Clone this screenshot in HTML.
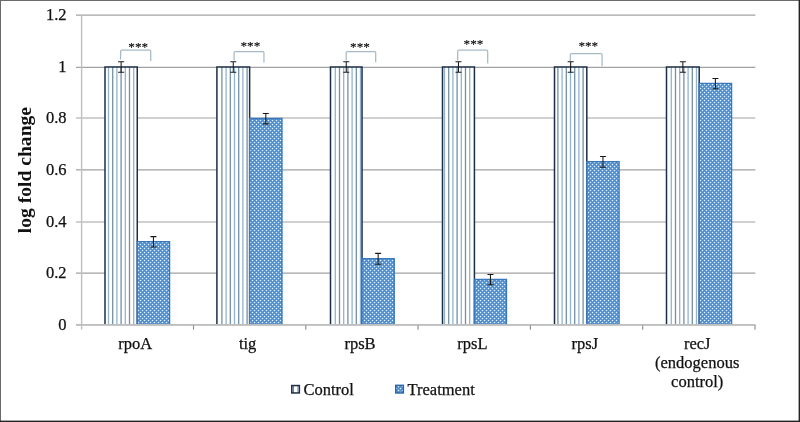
<!DOCTYPE html><html><head><meta charset="utf-8"><style>html,body{margin:0;padding:0;background:#fff;}svg{display:block;will-change:transform;}text{font-family:"Liberation Serif",serif;}.t{stroke:#111;stroke-width:0.25;}</style></head><body>
<svg width="800" height="422" viewBox="0 0 800 422">
<defs>
<pattern id="dots" width="4" height="4" patternUnits="userSpaceOnUse"><rect width="4" height="4" fill="#4d8acb"/><rect x="1" y="0" width="1" height="1" fill="#6aa2d8"/><rect x="3" y="0" width="1" height="1" fill="#6aa2d8"/><rect x="0" y="1" width="1" height="1" fill="#6aa2d8"/><rect x="0" y="3" width="1" height="1" fill="#6aa2d8"/><rect x="1" y="2" width="1" height="1" fill="#6aa2d8"/><rect x="3" y="2" width="1" height="1" fill="#6aa2d8"/><rect x="2" y="1" width="1" height="1" fill="#6aa2d8"/><rect x="2" y="3" width="1" height="1" fill="#6aa2d8"/><rect x="0" y="0" width="1" height="1" fill="#e4f4ff"/><rect x="2" y="2" width="1" height="1" fill="#e4f4ff"/></pattern>
</defs>
<rect width="800" height="422" fill="#fff"/>
<line x1="76" y1="324.80" x2="755.3" y2="324.80" stroke="#a2a2a2" stroke-width="1.2"/>
<text x="66.5" y="329.50" class="t" font-size="16.5" text-anchor="end" fill="#111">0</text>
<line x1="76" y1="273.15" x2="755.3" y2="273.15" stroke="#a2a2a2" stroke-width="1.2"/>
<text x="66.5" y="277.85" class="t" font-size="16.5" text-anchor="end" fill="#111">0.2</text>
<line x1="76" y1="222.00" x2="755.3" y2="222.00" stroke="#a2a2a2" stroke-width="1.2"/>
<text x="66.5" y="226.70" class="t" font-size="16.5" text-anchor="end" fill="#111">0.4</text>
<line x1="76" y1="169.85" x2="755.3" y2="169.85" stroke="#a2a2a2" stroke-width="1.2"/>
<text x="66.5" y="174.55" class="t" font-size="16.5" text-anchor="end" fill="#111">0.6</text>
<line x1="76" y1="118.00" x2="755.3" y2="118.00" stroke="#a2a2a2" stroke-width="1.2"/>
<text x="66.5" y="122.70" class="t" font-size="16.5" text-anchor="end" fill="#111">0.8</text>
<line x1="76" y1="67.40" x2="755.3" y2="67.40" stroke="#a2a2a2" stroke-width="1.2"/>
<text x="66.5" y="72.10" class="t" font-size="16.5" text-anchor="end" fill="#111">1</text>
<line x1="76" y1="15.10" x2="755.3" y2="15.10" stroke="#a2a2a2" stroke-width="1.2"/>
<text x="66.5" y="19.80" class="t" font-size="16.5" text-anchor="end" fill="#111">1.2</text>
<line x1="81.6" y1="15.1" x2="81.6" y2="329.5" stroke="#c2bebe" stroke-width="1.4"/>
<line x1="193.50" y1="324.85" x2="193.50" y2="329.7" stroke="#8a8a8a" stroke-width="1.1"/>
<line x1="305.80" y1="324.85" x2="305.80" y2="329.7" stroke="#8a8a8a" stroke-width="1.1"/>
<line x1="418.10" y1="324.85" x2="418.10" y2="329.7" stroke="#8a8a8a" stroke-width="1.1"/>
<line x1="530.40" y1="324.85" x2="530.40" y2="329.7" stroke="#8a8a8a" stroke-width="1.1"/>
<line x1="642.70" y1="324.85" x2="642.70" y2="329.7" stroke="#8a8a8a" stroke-width="1.1"/>
<line x1="755.00" y1="324.85" x2="755.00" y2="329.7" stroke="#8a8a8a" stroke-width="1.1"/>
<rect x="105.00" y="67.00" width="32.25" height="257.85" fill="#fff"/>
<line x1="108.50" y1="67.00" x2="108.50" y2="324.85" stroke="#92b2d4" stroke-width="1.3"/>
<line x1="112.70" y1="67.00" x2="112.70" y2="324.85" stroke="#74909f" stroke-width="1.3"/>
<line x1="116.90" y1="67.00" x2="116.90" y2="324.85" stroke="#92b2d4" stroke-width="1.3"/>
<line x1="121.10" y1="67.00" x2="121.10" y2="324.85" stroke="#74909f" stroke-width="1.3"/>
<line x1="125.30" y1="67.00" x2="125.30" y2="324.85" stroke="#92b2d4" stroke-width="1.3"/>
<line x1="129.50" y1="67.00" x2="129.50" y2="324.85" stroke="#74909f" stroke-width="1.3"/>
<line x1="133.70" y1="67.00" x2="133.70" y2="324.85" stroke="#92b2d4" stroke-width="1.3"/>
<path d="M105.00 324.85V67.00H137.25V324.85" fill="none" stroke="#1d2f45" stroke-width="1.5"/>
<rect x="137.25" y="241.56" width="32.35" height="83.29" fill="url(#dots)"/>
<path d="M137.25 324.85V241.56H169.60V324.85" fill="none" stroke="#3a78bd" stroke-width="1.3"/>
<path d="M118.12 61.84H124.12M121.12 61.84V72.16M118.12 72.16H124.12" stroke="#1a1a1a" stroke-width="1.05" fill="none"/>
<path d="M150.43 236.60H156.43M153.43 236.60V246.92M150.43 246.92H156.43" stroke="#1a1a1a" stroke-width="1.05" fill="none"/>
<path d="M120.60 59.50V51.40Q120.60 50.20 121.80 50.20H149.50Q150.70 50.20 150.70 51.40V61.10" stroke="#a6bac6" stroke-width="1.25" fill="none"/>
<text x="138.20" y="51.10" font-size="13.2" text-anchor="middle" fill="#000" stroke="#000" stroke-width="0.1">***</text>
<text x="135.25" y="349.4" class="t" font-size="16.5" text-anchor="middle" fill="#111">rpoA</text>
<rect x="216.90" y="67.00" width="32.74" height="257.85" fill="#fff"/>
<line x1="221.90" y1="67.00" x2="221.90" y2="324.85" stroke="#74909f" stroke-width="1.3"/>
<line x1="226.10" y1="67.00" x2="226.10" y2="324.85" stroke="#92b2d4" stroke-width="1.3"/>
<line x1="230.30" y1="67.00" x2="230.30" y2="324.85" stroke="#74909f" stroke-width="1.3"/>
<line x1="234.50" y1="67.00" x2="234.50" y2="324.85" stroke="#92b2d4" stroke-width="1.3"/>
<line x1="238.70" y1="67.00" x2="238.70" y2="324.85" stroke="#74909f" stroke-width="1.3"/>
<line x1="242.90" y1="67.00" x2="242.90" y2="324.85" stroke="#92b2d4" stroke-width="1.3"/>
<line x1="247.10" y1="67.00" x2="247.10" y2="324.85" stroke="#74909f" stroke-width="1.3"/>
<path d="M216.90 324.85V67.00H249.64V324.85" fill="none" stroke="#1d2f45" stroke-width="1.5"/>
<rect x="249.64" y="118.49" width="32.36" height="206.36" fill="url(#dots)"/>
<path d="M249.64 324.85V118.49H282.00V324.85" fill="none" stroke="#3a78bd" stroke-width="1.3"/>
<path d="M230.27 61.84H236.27M233.27 61.84V72.16M230.27 72.16H236.27" stroke="#1a1a1a" stroke-width="1.05" fill="none"/>
<path d="M262.82 113.53H268.82M265.82 113.53V123.85M262.82 123.85H268.82" stroke="#1a1a1a" stroke-width="1.05" fill="none"/>
<path d="M234.10 60.50V52.90Q234.10 51.70 235.30 51.70H262.75Q263.95 51.70 263.95 52.90V62.40" stroke="#a6bac6" stroke-width="1.25" fill="none"/>
<text x="250.40" y="50.10" font-size="13.2" text-anchor="middle" fill="#000" stroke="#000" stroke-width="0.1">***</text>
<text x="247.64" y="349.4" class="t" font-size="16.5" text-anchor="middle" fill="#111">tig</text>
<rect x="330.50" y="67.00" width="31.53" height="257.85" fill="#fff"/>
<line x1="335.30" y1="67.00" x2="335.30" y2="324.85" stroke="#92b2d4" stroke-width="1.3"/>
<line x1="339.50" y1="67.00" x2="339.50" y2="324.85" stroke="#74909f" stroke-width="1.3"/>
<line x1="343.70" y1="67.00" x2="343.70" y2="324.85" stroke="#92b2d4" stroke-width="1.3"/>
<line x1="347.90" y1="67.00" x2="347.90" y2="324.85" stroke="#74909f" stroke-width="1.3"/>
<line x1="352.10" y1="67.00" x2="352.10" y2="324.85" stroke="#92b2d4" stroke-width="1.3"/>
<line x1="356.30" y1="67.00" x2="356.30" y2="324.85" stroke="#74909f" stroke-width="1.3"/>
<line x1="360.50" y1="67.00" x2="360.50" y2="324.85" stroke="#92b2d4" stroke-width="1.3"/>
<path d="M330.50 324.85V67.00H362.03V324.85" fill="none" stroke="#1d2f45" stroke-width="1.5"/>
<rect x="362.03" y="258.59" width="32.22" height="66.26" fill="url(#dots)"/>
<path d="M362.03 324.85V258.59H394.25V324.85" fill="none" stroke="#3a78bd" stroke-width="1.3"/>
<path d="M343.26 61.84H349.26M346.26 61.84V72.16M343.26 72.16H349.26" stroke="#1a1a1a" stroke-width="1.05" fill="none"/>
<path d="M375.14 253.37H381.14M378.14 253.37V264.20M375.14 264.20H381.14" stroke="#1a1a1a" stroke-width="1.05" fill="none"/>
<path d="M346.20 60.50V52.70Q346.20 51.50 347.40 51.50H374.50Q375.70 51.50 375.70 52.70V62.30" stroke="#a6bac6" stroke-width="1.25" fill="none"/>
<text x="360.00" y="50.70" font-size="13.2" text-anchor="middle" fill="#000" stroke="#000" stroke-width="0.1">***</text>
<text x="360.03" y="349.4" class="t" font-size="16.5" text-anchor="middle" fill="#111">rpsB</text>
<rect x="442.50" y="67.00" width="31.92" height="257.85" fill="#fff"/>
<line x1="444.50" y1="67.00" x2="444.50" y2="324.85" stroke="#92b2d4" stroke-width="1.3"/>
<line x1="448.70" y1="67.00" x2="448.70" y2="324.85" stroke="#74909f" stroke-width="1.3"/>
<line x1="452.90" y1="67.00" x2="452.90" y2="324.85" stroke="#92b2d4" stroke-width="1.3"/>
<line x1="457.10" y1="67.00" x2="457.10" y2="324.85" stroke="#74909f" stroke-width="1.3"/>
<line x1="461.30" y1="67.00" x2="461.30" y2="324.85" stroke="#92b2d4" stroke-width="1.3"/>
<line x1="465.50" y1="67.00" x2="465.50" y2="324.85" stroke="#74909f" stroke-width="1.3"/>
<line x1="469.70" y1="67.00" x2="469.70" y2="324.85" stroke="#92b2d4" stroke-width="1.3"/>
<path d="M442.50 324.85V67.00H474.42V324.85" fill="none" stroke="#1d2f45" stroke-width="1.5"/>
<rect x="474.42" y="279.48" width="32.08" height="45.37" fill="url(#dots)"/>
<path d="M474.42 324.85V279.48H506.50V324.85" fill="none" stroke="#3a78bd" stroke-width="1.3"/>
<path d="M455.46 61.84H461.46M458.46 61.84V72.16M455.46 72.16H461.46" stroke="#1a1a1a" stroke-width="1.05" fill="none"/>
<path d="M487.46 274.52H493.46M490.46 274.52V284.84M487.46 284.84H493.46" stroke="#1a1a1a" stroke-width="1.05" fill="none"/>
<path d="M457.70 60.50V51.40Q457.70 50.20 458.90 50.20H486.50Q487.70 50.20 487.70 51.40V63.40" stroke="#a6bac6" stroke-width="1.25" fill="none"/>
<text x="473.50" y="48.20" font-size="13.2" text-anchor="middle" fill="#000" stroke="#000" stroke-width="0.1">***</text>
<text x="472.42" y="349.4" class="t" font-size="16.5" text-anchor="middle" fill="#111">rpsL</text>
<rect x="554.50" y="67.00" width="32.31" height="257.85" fill="#fff"/>
<line x1="557.90" y1="67.00" x2="557.90" y2="324.85" stroke="#74909f" stroke-width="1.3"/>
<line x1="562.10" y1="67.00" x2="562.10" y2="324.85" stroke="#92b2d4" stroke-width="1.3"/>
<line x1="566.30" y1="67.00" x2="566.30" y2="324.85" stroke="#74909f" stroke-width="1.3"/>
<line x1="570.50" y1="67.00" x2="570.50" y2="324.85" stroke="#92b2d4" stroke-width="1.3"/>
<line x1="574.70" y1="67.00" x2="574.70" y2="324.85" stroke="#74909f" stroke-width="1.3"/>
<line x1="578.90" y1="67.00" x2="578.90" y2="324.85" stroke="#92b2d4" stroke-width="1.3"/>
<line x1="583.10" y1="67.00" x2="583.10" y2="324.85" stroke="#74909f" stroke-width="1.3"/>
<path d="M554.50 324.85V67.00H586.81V324.85" fill="none" stroke="#1d2f45" stroke-width="1.5"/>
<rect x="586.81" y="161.71" width="32.29" height="163.14" fill="url(#dots)"/>
<path d="M586.81 324.85V161.71H619.10V324.85" fill="none" stroke="#3a78bd" stroke-width="1.3"/>
<path d="M567.65 61.84H573.65M570.65 61.84V72.16M567.65 72.16H573.65" stroke="#1a1a1a" stroke-width="1.05" fill="none"/>
<path d="M599.95 156.49H605.95M602.95 156.49V167.33M599.95 167.33H605.95" stroke="#1a1a1a" stroke-width="1.05" fill="none"/>
<path d="M570.30 61.00V54.70Q570.30 53.50 571.50 53.50H600.90Q602.10 53.50 602.10 54.70V66.30" stroke="#a6bac6" stroke-width="1.25" fill="none"/>
<text x="588.30" y="50.00" font-size="13.2" text-anchor="middle" fill="#000" stroke="#000" stroke-width="0.1">***</text>
<text x="584.81" y="349.4" class="t" font-size="16.5" text-anchor="middle" fill="#111">rpsJ</text>
<rect x="666.50" y="67.00" width="32.70" height="257.85" fill="#fff"/>
<line x1="671.30" y1="67.00" x2="671.30" y2="324.85" stroke="#92b2d4" stroke-width="1.3"/>
<line x1="675.50" y1="67.00" x2="675.50" y2="324.85" stroke="#74909f" stroke-width="1.3"/>
<line x1="679.70" y1="67.00" x2="679.70" y2="324.85" stroke="#92b2d4" stroke-width="1.3"/>
<line x1="683.90" y1="67.00" x2="683.90" y2="324.85" stroke="#74909f" stroke-width="1.3"/>
<line x1="688.10" y1="67.00" x2="688.10" y2="324.85" stroke="#92b2d4" stroke-width="1.3"/>
<line x1="692.30" y1="67.00" x2="692.30" y2="324.85" stroke="#74909f" stroke-width="1.3"/>
<line x1="696.50" y1="67.00" x2="696.50" y2="324.85" stroke="#92b2d4" stroke-width="1.3"/>
<path d="M666.50 324.85V67.00H699.20V324.85" fill="none" stroke="#1d2f45" stroke-width="1.5"/>
<rect x="699.20" y="83.40" width="32.40" height="241.45" fill="url(#dots)"/>
<path d="M699.20 324.85V83.40H731.60V324.85" fill="none" stroke="#3a78bd" stroke-width="1.3"/>
<path d="M679.85 61.84H685.85M682.85 61.84V72.16M679.85 72.16H685.85" stroke="#1a1a1a" stroke-width="1.05" fill="none"/>
<path d="M712.40 78.44H718.40M715.40 78.44V88.76M712.40 88.76H718.40" stroke="#1a1a1a" stroke-width="1.05" fill="none"/>
<text x="697.20" y="349.2" class="t" font-size="16.5" text-anchor="middle" fill="#111">recJ</text>
<text x="697.20" y="368.3" class="t" font-size="16.5" text-anchor="middle" fill="#111">(endogenous</text>
<text x="697.20" y="387.4" class="t" font-size="16.5" text-anchor="middle" fill="#111">control)</text>
<line x1="76" y1="324.8" x2="755.3" y2="324.8" stroke="#bdbdbd" stroke-width="1.5"/>
<rect x="291.75" y="385.55" width="7.6" height="7.4" fill="#fff"/>
<line x1="293.3" y1="385.5" x2="293.3" y2="393" stroke="#4a82c4" stroke-width="1.3"/><line x1="297.8" y1="385.5" x2="297.8" y2="393" stroke="#9db4c8" stroke-width="1.3"/>
<rect x="291.75" y="385.55" width="7.6" height="7.4" fill="none" stroke="#1d2f45" stroke-width="1.5"/>
<text x="303.5" y="394.6" class="t" font-size="16.5" fill="#111">Control</text>
<rect x="395.75" y="385.35" width="7.6" height="7.6" fill="url(#dots)" stroke="#2d66a8" stroke-width="1.5"/>
<text x="407.5" y="394.7" class="t" font-size="16.5" fill="#111">Treatment</text>
<text x="0" y="0" font-size="19.6" font-weight="bold" text-anchor="middle" fill="#111" transform="translate(31.1 170.1) rotate(-90)">log fold change</text>
<rect x="0" y="0" width="800" height="1" fill="#6a6a6a"/>
<rect x="0" y="0" width="1" height="422" fill="#6a6a6a"/>
<rect x="798.6" y="0" width="1.4" height="422" fill="#232323"/>
<rect x="0" y="420.6" width="800" height="1.4" fill="#232323"/>
</svg></body></html>
